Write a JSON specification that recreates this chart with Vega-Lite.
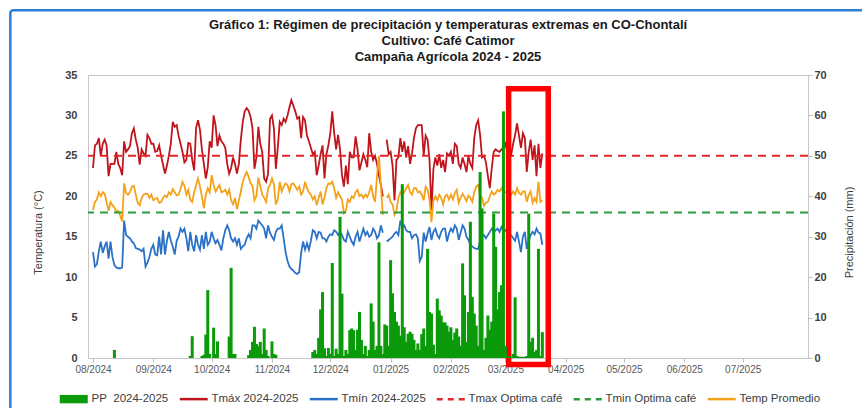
{
 "$schema": "https://vega.github.io/schema/vega-lite/v6.json",
 "width": 720,
 "height": 283,
 "autosize": {"type": "none"},
 "padding": {"left": 88, "top": 75, "right": 54, "bottom": 50},
 "background": "white",
 "config": {"view": {"stroke": "#c6c6c6", "strokeWidth": 1}, "font": "Liberation Sans", "axis": {"grid": false}},
 "title": {"text": ["Gráfico 1: Régimen de precipitación y temperaturas extremas en CO-Chontalí", "Cultivo: Café Catimor", "Campaña Agrícola 2024 - 2025"], "fontSize": 13, "fontWeight": "bold", "color": "#1a1a1a", "lineHeight": 16, "anchor": "middle", "offset": -55},
 "datasets": {"clima": [
{"d":"2024-08-01","pp":0,"tx":23.5,"tn":13.1,"tm":18.3},
{"d":"2024-08-02","pp":0,"tx":26.3,"tn":11.3,"tm":19.3},
{"d":"2024-08-03","pp":0,"tx":26.5,"tn":11.6,"tm":19.6},
{"d":"2024-08-04","pp":0,"tx":27.2,"tn":13.2,"tm":20.5},
{"d":"2024-08-05","pp":0,"tx":25,"tn":14.4,"tm":20},
{"d":"2024-08-06","pp":0,"tx":26.5,"tn":13,"tm":20.5},
{"d":"2024-08-07","pp":0,"tx":27,"tn":13.8,"tm":20.3},
{"d":"2024-08-08","pp":0,"tx":26.3,"tn":14.4,"tm":19.3},
{"d":"2024-08-09","pp":0,"tx":22.5,"tn":12.3,"tm":18.2},
{"d":"2024-08-10","pp":0,"tx":24,"tn":14.4,"tm":19.3},
{"d":"2024-08-11","pp":0,"tx":24,"tn":12.5,"tm":18.9},
{"d":"2024-08-12","pp":2,"tx":24,"tn":11.5,"tm":18.6},
{"d":"2024-08-13","pp":0,"tx":25.5,"tn":11.2,"tm":18.1},
{"d":"2024-08-14","pp":0,"tx":24,"tn":11.1,"tm":18.2},
{"d":"2024-08-15","pp":0,"tx":23.5,"tn":11.1,"tm":17.6},
{"d":"2024-08-16","pp":0,"tx":22.6,"tn":11.2,"tm":16.9},
{"d":"2024-08-17","pp":0,"tx":26.8,"tn":17,"tm":21.6},
{"d":"2024-08-18","pp":0,"tx":25.5,"tn":15.2,"tm":20.4},
{"d":"2024-08-19","pp":0,"tx":25.8,"tn":15,"tm":20.2},
{"d":"2024-08-20","pp":0,"tx":26.2,"tn":14.8,"tm":20.5},
{"d":"2024-08-21","pp":0,"tx":27.8,"tn":14.4,"tm":21.2},
{"d":"2024-08-22","pp":0,"tx":28.4,"tn":14.2,"tm":21.3},
{"d":"2024-08-23","pp":0,"tx":27,"tn":13.6,"tm":20.2},
{"d":"2024-08-24","pp":0,"tx":26,"tn":13.5,"tm":19.2},
{"d":"2024-08-25","pp":0,"tx":23.9,"tn":13.4,"tm":18.9},
{"d":"2024-08-26","pp":0,"tx":25.8,"tn":13.2,"tm":19.8},
{"d":"2024-08-27","pp":0,"tx":25.3,"tn":13.5,"tm":20.2},
{"d":"2024-08-28","pp":0,"tx":25,"tn":11.3,"tm":20.3},
{"d":"2024-08-29","pp":0,"tx":27.6,"tn":11.8,"tm":20.3},
{"d":"2024-08-30","pp":0,"tx":27.2,"tn":12.5,"tm":19.8},
{"d":"2024-08-31","pp":0,"tx":26.5,"tn":13.5,"tm":20.2},
{"d":"2024-09-01","pp":0,"tx":26.5,"tn":14,"tm":19.5},
{"d":"2024-09-02","pp":0,"tx":25.5,"tn":12.8,"tm":19.7},
{"d":"2024-09-03","pp":0,"tx":25.6,"tn":12.7,"tm":19.8},
{"d":"2024-09-04","pp":0,"tx":26.3,"tn":15,"tm":19.2},
{"d":"2024-09-05","pp":0,"tx":25,"tn":12.8,"tm":19.3},
{"d":"2024-09-06","pp":0,"tx":23.9,"tn":15.8,"tm":19.8},
{"d":"2024-09-07","pp":0,"tx":22.8,"tn":12.8,"tm":20.1},
{"d":"2024-09-08","pp":0,"tx":23.8,"tn":14.5,"tm":19.9},
{"d":"2024-09-09","pp":0,"tx":25,"tn":15.6,"tm":20.5},
{"d":"2024-09-10","pp":0,"tx":26.5,"tn":14.5,"tm":20.2},
{"d":"2024-09-11","pp":0,"tx":29.2,"tn":13.8,"tm":20.9},
{"d":"2024-09-12","pp":0,"tx":28.6,"tn":12.8,"tm":20.5},
{"d":"2024-09-13","pp":0,"tx":28.8,"tn":14.5,"tm":20.1},
{"d":"2024-09-14","pp":0,"tx":27.5,"tn":15,"tm":20.2},
{"d":"2024-09-15","pp":0,"tx":26.5,"tn":16,"tm":20.9},
{"d":"2024-09-16","pp":0,"tx":25.5,"tn":15.6,"tm":21.8},
{"d":"2024-09-17","pp":0,"tx":24.2,"tn":16,"tm":21.3},
{"d":"2024-09-18","pp":0,"tx":24.5,"tn":14.8,"tm":20.2},
{"d":"2024-09-19","pp":0,"tx":26.6,"tn":13.2,"tm":20.8},
{"d":"2024-09-20","pp":0.5,"tx":26.5,"tn":15.6,"tm":19.6},
{"d":"2024-09-21","pp":5.4,"tx":24.5,"tn":14,"tm":19.3},
{"d":"2024-09-22","pp":0,"tx":23.2,"tn":13.2,"tm":20.5},
{"d":"2024-09-23","pp":0,"tx":28.5,"tn":15.2,"tm":21.4},
{"d":"2024-09-24","pp":0,"tx":29.4,"tn":14,"tm":22.2},
{"d":"2024-09-25","pp":0,"tx":28.2,"tn":13.4,"tm":21.2},
{"d":"2024-09-26","pp":0.5,"tx":25.8,"tn":15.2,"tm":20},
{"d":"2024-09-27","pp":0.8,"tx":24,"tn":13.5,"tm":18.5},
{"d":"2024-09-28","pp":5.8,"tx":22.2,"tn":15.6,"tm":20.2},
{"d":"2024-09-29","pp":16.8,"tx":23.6,"tn":14,"tm":21},
{"d":"2024-09-30","pp":1,"tx":26.8,"tn":14.4,"tm":20.5},
{"d":"2024-10-01","pp":0,"tx":26,"tn":15.6,"tm":22.6},
{"d":"2024-10-02","pp":7.5,"tx":30,"tn":14.8,"tm":21.4},
{"d":"2024-10-03","pp":1,"tx":28.8,"tn":14.2,"tm":20.6},
{"d":"2024-10-04","pp":4.1,"tx":26.2,"tn":14.6,"tm":21},
{"d":"2024-10-05","pp":0,"tx":27.5,"tn":14,"tm":21.4},
{"d":"2024-10-06","pp":0,"tx":26.8,"tn":13.3,"tm":20.5},
{"d":"2024-10-07","pp":0,"tx":26.5,"tn":14.8,"tm":20.6},
{"d":"2024-10-08","pp":0,"tx":26,"tn":15.8,"tm":20.8},
{"d":"2024-10-09","pp":0,"tx":24,"tn":16.4,"tm":20.2},
{"d":"2024-10-10","pp":5.3,"tx":22.8,"tn":15.8,"tm":20.8},
{"d":"2024-10-11","pp":22.3,"tx":23.5,"tn":14.8,"tm":19.5},
{"d":"2024-10-12","pp":1,"tx":24.8,"tn":14.4,"tm":19},
{"d":"2024-10-13","pp":1,"tx":24,"tn":14.8,"tm":19.8},
{"d":"2024-10-14","pp":0,"tx":22.8,"tn":14,"tm":18.4},
{"d":"2024-10-15","pp":0,"tx":24,"tn":14.8,"tm":19.5},
{"d":"2024-10-16","pp":0,"tx":27,"tn":13.5,"tm":20.6},
{"d":"2024-10-17","pp":0,"tx":29.2,"tn":13.8,"tm":21.8},
{"d":"2024-10-18","pp":0,"tx":30.5,"tn":14,"tm":22.5},
{"d":"2024-10-19","pp":0,"tx":30.9,"tn":14.8,"tm":23},
{"d":"2024-10-20","pp":0.7,"tx":30.6,"tn":15.3,"tm":22.4},
{"d":"2024-10-21","pp":2,"tx":29.8,"tn":14.8,"tm":21.6},
{"d":"2024-10-22","pp":4,"tx":28.4,"tn":16.4,"tm":21.3},
{"d":"2024-10-23","pp":7.7,"tx":23.4,"tn":16.4,"tm":19.5},
{"d":"2024-10-24","pp":3.5,"tx":24.8,"tn":16,"tm":20},
{"d":"2024-10-25","pp":2.9,"tx":28.6,"tn":17,"tm":22.3},
{"d":"2024-10-26","pp":4,"tx":26.5,"tn":16.7,"tm":21.3},
{"d":"2024-10-27","pp":1,"tx":25.5,"tn":16.4,"tm":20.2},
{"d":"2024-10-28","pp":7.3,"tx":22.2,"tn":16,"tm":19.8},
{"d":"2024-10-29","pp":2,"tx":21.8,"tn":14.8,"tm":19.3},
{"d":"2024-10-30","pp":0.5,"tx":22.8,"tn":16.4,"tm":21},
{"d":"2024-10-31","pp":0,"tx":29.6,"tn":15.5,"tm":21.4},
{"d":"2024-11-01","pp":4.1,"tx":30,"tn":15,"tm":22.2},
{"d":"2024-11-02","pp":1,"tx":28.4,"tn":14.6,"tm":21.5},
{"d":"2024-11-03","pp":0.8,"tx":23.4,"tn":15.6,"tm":19},
{"d":"2024-11-04","pp":0,"tx":26,"tn":16,"tm":19.6},
{"d":"2024-11-05","pp":0,"tx":29.2,"tn":16,"tm":21.8},
{"d":"2024-11-06","pp":0,"tx":28.8,"tn":16.4,"tm":20.6},
{"d":"2024-11-07","pp":0,"tx":29.6,"tn":14.8,"tm":21.2},
{"d":"2024-11-08","pp":0,"tx":29.2,"tn":13.1,"tm":21.6},
{"d":"2024-11-09","pp":0,"tx":30,"tn":12,"tm":21.4},
{"d":"2024-11-10","pp":0,"tx":31,"tn":11.3,"tm":20.6},
{"d":"2024-11-11","pp":0,"tx":31.9,"tn":11,"tm":21.5},
{"d":"2024-11-12","pp":0,"tx":31.2,"tn":10.8,"tm":21.6},
{"d":"2024-11-13","pp":0,"tx":30.5,"tn":10.5,"tm":21.2},
{"d":"2024-11-14","pp":0,"tx":29.6,"tn":10.4,"tm":20.8},
{"d":"2024-11-15","pp":0,"tx":29.8,"tn":10.6,"tm":21.2},
{"d":"2024-11-16","pp":0,"tx":27.2,"tn":13,"tm":20.2},
{"d":"2024-11-17","pp":0,"tx":29.8,"tn":14.4,"tm":20.6},
{"d":"2024-11-18","pp":0,"tx":29.4,"tn":13.4,"tm":21.8},
{"d":"2024-11-19","pp":0,"tx":27.5,"tn":14.2,"tm":21},
{"d":"2024-11-20","pp":0,"tx":26.8,"tn":13.4,"tm":20.5},
{"d":"2024-11-21","pp":0,"tx":26,"tn":14.5,"tm":20.2},
{"d":"2024-11-22","pp":1.5,"tx":25.2,"tn":15.8,"tm":19.6},
{"d":"2024-11-23","pp":2,"tx":25.5,"tn":15.6,"tm":20},
{"d":"2024-11-24","pp":1,"tx":22.6,"tn":14.8,"tm":18.9},
{"d":"2024-11-25","pp":5,"tx":23.8,"tn":15.6,"tm":19.8},
{"d":"2024-11-26","pp":12,"tx":25.2,"tn":15.5,"tm":20.6},
{"d":"2024-11-27","pp":16.3,"tx":26.3,"tn":14.8,"tm":19},
{"d":"2024-11-28","pp":2.4,"tx":22.2,"tn":14.8,"tm":19.8},
{"d":"2024-11-29","pp":0.5,"tx":25.2,"tn":14.4,"tm":21},
{"d":"2024-11-30","pp":2.5,"tx":26.3,"tn":15,"tm":21.6},
{"d":"2024-12-01","pp":1,"tx":27.8,"tn":15.3,"tm":21.5},
{"d":"2024-12-02","pp":23.5,"tx":30.5,"tn":15.2,"tm":21.8},
{"d":"2024-12-03","pp":0.5,"tx":27.8,"tn":15.8,"tm":21},
{"d":"2024-12-04","pp":2.3,"tx":25.8,"tn":15.6,"tm":19.8},
{"d":"2024-12-05","pp":1,"tx":27.6,"tn":15.2,"tm":20.5},
{"d":"2024-12-06","pp":34.9,"tx":25.8,"tn":15.6,"tm":20},
{"d":"2024-12-07","pp":15.9,"tx":22.6,"tn":15.2,"tm":19.6},
{"d":"2024-12-08","pp":0.5,"tx":21.2,"tn":14.6,"tm":17.9},
{"d":"2024-12-09","pp":2,"tx":23.8,"tn":14.4,"tm":18.2},
{"d":"2024-12-10","pp":1,"tx":21.5,"tn":15.6,"tm":19.6},
{"d":"2024-12-11","pp":6.9,"tx":25.5,"tn":15,"tm":19.3},
{"d":"2024-12-12","pp":7.3,"tx":24.8,"tn":14.4,"tm":20},
{"d":"2024-12-13","pp":6.9,"tx":24.8,"tn":14,"tm":19.8},
{"d":"2024-12-14","pp":2,"tx":27.4,"tn":15,"tm":20.5},
{"d":"2024-12-15","pp":7,"tx":25.8,"tn":15.6,"tm":20.8},
{"d":"2024-12-16","pp":11.4,"tx":23.2,"tn":14.4,"tm":20},
{"d":"2024-12-17","pp":4.5,"tx":24.2,"tn":15.2,"tm":20.2},
{"d":"2024-12-18","pp":1,"tx":25.2,"tn":16,"tm":19.8},
{"d":"2024-12-19","pp":3,"tx":24.5,"tn":15.2,"tm":20.2},
{"d":"2024-12-20","pp":0.5,"tx":23.6,"tn":15.6,"tm":19.9},
{"d":"2024-12-21","pp":2,"tx":27.8,"tn":15,"tm":20.5},
{"d":"2024-12-22","pp":13.5,"tx":25.5,"tn":15.2,"tm":21.4},
{"d":"2024-12-23","pp":9,"tx":24.5,"tn":16,"tm":20},
{"d":"2024-12-24","pp":2,"tx":25,"tn":15.6,"tm":19.3},
{"d":"2024-12-25","pp":3,"tx":24,"tn":14.8,"tm":22.5},
{"d":"2024-12-26","pp":28.6,"tx":22.6,"tn":15.2,"tm":25},
{"d":"2024-12-27","pp":3,"tx":21.4,"tn":16.4,"tm":21.2},
{"d":"2024-12-28","pp":1,"tx":20,"tn":15.5,"tm":17.7},
{"d":"2024-12-29","pp":8.3,"tx":null,"tn":null,"tm":null},
{"d":"2024-12-30","pp":8,"tx":27,"tn":14.4,"tm":19.8},
{"d":"2024-12-31","pp":3,"tx":25.2,"tn":14.6,"tm":20.2},
{"d":"2025-01-01","pp":24.2,"tx":25.5,"tn":14.8,"tm":19.3},
{"d":"2025-01-02","pp":16,"tx":23.8,"tn":15,"tm":19},
{"d":"2025-01-03","pp":11.4,"tx":19.5,"tn":15.4,"tm":17.7},
{"d":"2025-01-04","pp":9,"tx":24.5,"tn":15.6,"tm":18.2},
{"d":"2025-01-05","pp":8,"tx":24.8,"tn":15.2,"tm":19.8},
{"d":"2025-01-06","pp":5.5,"tx":27.2,"tn":17,"tm":20.5},
{"d":"2025-01-07","pp":43,"tx":25.5,"tn":16.2,"tm":20.2},
{"d":"2025-01-08","pp":7.6,"tx":26.8,"tn":16.4,"tm":20.5},
{"d":"2025-01-09","pp":4,"tx":24.8,"tn":15.8,"tm":21},
{"d":"2025-01-10","pp":6,"tx":26.2,"tn":15.6,"tm":21.4},
{"d":"2025-01-11","pp":6.5,"tx":24,"tn":15.6,"tm":20.5},
{"d":"2025-01-12","pp":6,"tx":25.3,"tn":14.8,"tm":20.2},
{"d":"2025-01-13","pp":4.5,"tx":27.2,"tn":15.2,"tm":21},
{"d":"2025-01-14","pp":2,"tx":28.4,"tn":15.3,"tm":21},
{"d":"2025-01-15","pp":3.6,"tx":28.8,"tn":14.8,"tm":20.5},
{"d":"2025-01-16","pp":2,"tx":28.8,"tn":12,"tm":20.6},
{"d":"2025-01-17","pp":5.9,"tx":28.8,"tn":12.5,"tm":20.2},
{"d":"2025-01-18","pp":7.3,"tx":25,"tn":15.5,"tm":19.5},
{"d":"2025-01-19","pp":3,"tx":27.5,"tn":14.4,"tm":21.2},
{"d":"2025-01-20","pp":27,"tx":27,"tn":15.4,"tm":20.8},
{"d":"2025-01-21","pp":11.4,"tx":24.5,"tn":16.2,"tm":19.5},
{"d":"2025-01-22","pp":11,"tx":18.3,"tn":14.6,"tm":16.8},
{"d":"2025-01-23","pp":3.3,"tx":23.4,"tn":15.6,"tm":19.4},
{"d":"2025-01-24","pp":1,"tx":24.8,"tn":16,"tm":20},
{"d":"2025-01-25","pp":14.7,"tx":23.8,"tn":15.2,"tm":19.5},
{"d":"2025-01-26","pp":11.8,"tx":25.2,"tn":14.8,"tm":20.2},
{"d":"2025-01-27","pp":10.5,"tx":23.5,"tn":15.6,"tm":19.8},
{"d":"2025-01-28","pp":8.8,"tx":24.5,"tn":16,"tm":19},
{"d":"2025-01-29","pp":8.8,"tx":23,"tn":16,"tm":20},
{"d":"2025-01-30","pp":8,"tx":25.3,"tn":14.4,"tm":20.2},
{"d":"2025-01-31","pp":6.5,"tx":25,"tn":15.4,"tm":19.6},
{"d":"2025-02-01","pp":7.6,"tx":25.5,"tn":16,"tm":20.2},
{"d":"2025-02-02","pp":4.5,"tx":24,"tn":15.6,"tm":19.6},
{"d":"2025-02-03","pp":6.3,"tx":26.5,"tn":16.4,"tm":20.4},
{"d":"2025-02-04","pp":7.3,"tx":26.2,"tn":16,"tm":20.8},
{"d":"2025-02-05","pp":5.3,"tx":24,"tn":14.6,"tm":19.2},
{"d":"2025-02-06","pp":3,"tx":23.5,"tn":15.5,"tm":19.8},
{"d":"2025-02-07","pp":23.4,"tx":24.8,"tn":16.4,"tm":20.3},
{"d":"2025-02-08","pp":15.5,"tx":24,"tn":16,"tm":19.9},
{"d":"2025-02-09","pp":4,"tx":23,"tn":15,"tm":19.4},
{"d":"2025-02-10","pp":11.4,"tx":25,"tn":14.6,"tm":20.1},
{"d":"2025-02-11","pp":33.7,"tx":24,"tn":14,"tm":19.8},
{"d":"2025-02-12","pp":15.1,"tx":23.5,"tn":13.8,"tm":19.3},
{"d":"2025-02-13","pp":11,"tx":27.2,"tn":13.6,"tm":20.5},
{"d":"2025-02-14","pp":8,"tx":28.8,"tn":13.5,"tm":21.2},
{"d":"2025-02-15","pp":3,"tx":29.4,"tn":13.5,"tm":21.4},
{"d":"2025-02-16","pp":46,"tx":27.6,"tn":14.5,"tm":20.2},
{"d":"2025-02-17","pp":37,"tx":24.8,"tn":15,"tm":19.8},
{"d":"2025-02-18","pp":2,"tx":25,"tn":15.2,"tm":18.8},
{"d":"2025-02-19","pp":5,"tx":24.2,"tn":14.8,"tm":19.2},
{"d":"2025-02-20","pp":10.5,"tx":22.5,"tn":15.2,"tm":19.3},
{"d":"2025-02-21","pp":7,"tx":21,"tn":15.6,"tm":20},
{"d":"2025-02-22","pp":9,"tx":23.5,"tn":16,"tm":20.6},
{"d":"2025-02-23","pp":35.7,"tx":25.5,"tn":15.6,"tm":20.2},
{"d":"2025-02-24","pp":27.5,"tx":25.8,"tn":15.8,"tm":20.4},
{"d":"2025-02-25","pp":12,"tx":25.6,"tn":16,"tm":20.8},
{"d":"2025-02-26","pp":16.3,"tx":25.5,"tn":15.6,"tm":20.6},
{"d":"2025-02-27","pp":18,"tx":25.8,"tn":16.2,"tm":21},
{"d":"2025-02-28","pp":61,"tx":26,"tn":15.8,"tm":20.6},
{"d":"2025-03-01","pp":3,"tx":26.5,"tn":15.8,"tm":20.5},
{"d":"2025-03-02","pp":0.5,"tx":25.5,"tn":15.5,"tm":20.4},
{"d":"2025-03-03","pp":0.3,"tx":25,"tn":15.2,"tm":20.5},
{"d":"2025-03-04","pp":0.3,"tx":25.2,"tn":15.2,"tm":20.2},
{"d":"2025-03-05","pp":1,"tx":26.5,"tn":14.8,"tm":20.6},
{"d":"2025-03-06","pp":15,"tx":27.6,"tn":14.5,"tm":20.2},
{"d":"2025-03-07","pp":0.5,"tx":29,"tn":15.6,"tm":21},
{"d":"2025-03-08","pp":0.3,"tx":27.5,"tn":14.4,"tm":20.4},
{"d":"2025-03-09","pp":0.3,"tx":26,"tn":13.1,"tm":20.2},
{"d":"2025-03-10","pp":0.3,"tx":27.8,"tn":15,"tm":20.6},
{"d":"2025-03-11","pp":0.3,"tx":27.2,"tn":15.6,"tm":20.6},
{"d":"2025-03-12","pp":0.5,"tx":23,"tn":13.5,"tm":19.3},
{"d":"2025-03-13","pp":35.7,"tx":25.5,"tn":14.5,"tm":20.2},
{"d":"2025-03-14","pp":4,"tx":27,"tn":15.2,"tm":20.6},
{"d":"2025-03-15","pp":5,"tx":24.5,"tn":15.6,"tm":19.2},
{"d":"2025-03-16","pp":1.5,"tx":26.3,"tn":15.3,"tm":19.8},
{"d":"2025-03-17","pp":2,"tx":22.5,"tn":16,"tm":19.3},
{"d":"2025-03-18","pp":27,"tx":26.5,"tn":15.5,"tm":21.8},
{"d":"2025-03-19","pp":0.5,"tx":23.5,"tn":15.4,"tm":19.3},
{"d":"2025-03-20","pp":6.4,"tx":25.3,"tn":14,"tm":19.5}
 ]},
 "layer": [
  {
   "layer": [
    {
     "data": {"name": "clima"},
     "transform": [{"fold": ["tx", "tn", "tm"], "as": ["serie", "temp"]}],
     "mark": {"type": "line", "strokeWidth": 1.8, "invalid": "break-paths-filter-domains"},
     "encoding": {
      "x": {"field": "d", "type": "temporal",
       "scale": {"type": "utc", "domain": [{"year": 2024, "month": 8, "date": 1, "utc": true}, {"year": 2025, "month": 8, "date": 1, "utc": true}]},
       "axis": {"title": null, "format": "%m/%Y", "labelFontSize": 10, "labelColor": "#595959", "tickSize": 4, "tickColor": "#bfbfbf", "domain": false, "labelPadding": 2, "labelFlush": false, "labelOverlap": false,
        "values": [{"year": 2024, "month": 8, "date": 1, "utc": true}, {"year": 2024, "month": 9, "date": 1, "utc": true}, {"year": 2024, "month": 10, "date": 1, "utc": true}, {"year": 2024, "month": 11, "date": 1, "utc": true}, {"year": 2024, "month": 12, "date": 1, "utc": true}, {"year": 2025, "month": 1, "date": 1, "utc": true}, {"year": 2025, "month": 2, "date": 1, "utc": true}, {"year": 2025, "month": 3, "date": 1, "utc": true}, {"year": 2025, "month": 4, "date": 1, "utc": true}, {"year": 2025, "month": 5, "date": 1, "utc": true}, {"year": 2025, "month": 6, "date": 1, "utc": true}, {"year": 2025, "month": 7, "date": 1, "utc": true}]}},
      "y": {"field": "temp", "type": "quantitative", "scale": {"domain": [0, 35]},
       "axis": {"title": "Temperatura (°C)", "titleFontSize": 11, "titleFontWeight": "normal", "titleColor": "#404040", "titleAngle": 270, "titleX": -50, "titleY": 157, "titleBaseline": "middle", "titleAlign": "center",
        "labelFontSize": 11, "labelFontWeight": "bold", "labelColor": "#404040", "ticks": false, "tickSize": 0, "domain": false, "labelPadding": 11, "values": [0, 5, 10, 15, 20, 25, 30, 35]}},
      "color": {"field": "serie", "type": "nominal",
       "scale": {"domain": ["pp", "tx", "tn", "txo", "tno", "tm"], "range": ["#0a9a0a", "#c0141c", "#2a72c8", "#e5262b", "#2e9b3a", "#f5a21b"]},
       "legend": {"orient": "none", "legendX": -20, "legendY": 318, "direction": "horizontal", "title": null, "labelFontSize": 11.5, "labelColor": "#404040", "symbolSize": 784, "columnPadding": 5, "labelOffset": 12,
        "labelExpr": "datum.value == 'pp' ? 'PP\u00a0\u00a02024-2025' : datum.value == 'tx' ? 'Tmáx 2024-2025' : datum.value == 'tn' ? 'Tmín 2024-2025' : datum.value == 'txo' ? 'Tmax Optima café' : datum.value == 'tno' ? 'Tmin Optima café' : 'Temp Promedio'",
        "encode": {"symbols": {"update": {
         "shape": {"signal": "datum.value == 'pp' ? 'M-1,-0.3H1V0.3H-1Z' : 'M-1,0H1'"},
         "fill": {"signal": "datum.value == 'pp' ? '#0a9a0a' : 'transparent'"},
         "stroke": {"signal": "datum.value == 'pp' ? '#0a9a0a' : scale('color', datum.value)"},
         "strokeWidth": {"signal": "datum.value == 'pp' ? 0 : 2.5"},
         "strokeDash": {"signal": "(datum.value == 'txo' || datum.value == 'tno') ? [6, 5] : []"},
         "opacity": {"value": 1},
         "size": {"value": 784}
        }}}}}
     }
    },
    {
     "data": {"values": [{"serie": "txo", "v": 25}, {"serie": "tno", "v": 18}]},
     "mark": {"type": "rule", "strokeDash": [8, 6], "strokeWidth": 2},
     "encoding": {"y": {"field": "v", "type": "quantitative"}, "color": {"field": "serie", "type": "nominal"}}
    },
    {
     "data": {"values": [{"inicio": "2025-03-02T16:00:00Z", "fin": "2025-03-23T01:00:00Z", "sup": 33.3, "inf": -0.8}]},
     "mark": {"type": "rect", "filled": false, "stroke": "#ff0000", "strokeWidth": 5.5},
     "encoding": {"x": {"field": "inicio", "type": "temporal"}, "x2": {"field": "fin"}, "y": {"field": "sup", "type": "quantitative"}, "y2": {"field": "inf"}}
    },
    {
     "data": {"values": [{"inicio": "2024-06-19T12:00:00Z", "fin": "2025-09-05T00:00:00Z", "sup": 43.0, "inf": -8}]},
     "mark": {"type": "rect", "filled": false, "stroke": "#2d7fd6", "strokeWidth": 2.5, "cornerRadius": 3},
     "encoding": {"x": {"field": "inicio", "type": "temporal"}, "x2": {"field": "fin"}, "y": {"field": "sup", "type": "quantitative"}, "y2": {"field": "inf"}}
    }
   ]
  },
  {
   "data": {"name": "clima"},
   "mark": {"type": "bar", "width": 3},
   "encoding": {
    "x": {"field": "d", "type": "temporal"},
    "y": {"field": "pp", "type": "quantitative", "scale": {"domain": [0, 70]},
     "axis": {"orient": "right", "title": "Precipitación (mm)", "titleFontSize": 11, "titleFontWeight": "normal", "titleColor": "#404040", "titleAngle": 270, "titleX": 41, "titleY": 157, "titleBaseline": "middle", "titleAlign": "center",
      "labelFontSize": 11, "labelFontWeight": "bold", "labelColor": "#404040", "tickSize": 4, "tickColor": "#bfbfbf", "domain": false, "labelPadding": 2, "values": [0, 10, 20, 30, 40, 50, 60, 70]}},
    "color": {"datum": "pp", "type": "nominal"}
   }
  }
 ],
 "resolve": {"scale": {"y": "independent"}}
}
